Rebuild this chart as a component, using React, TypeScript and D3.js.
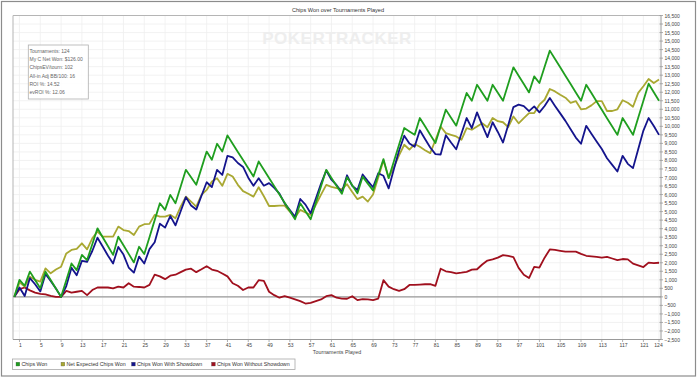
import React from "react";
import * as d3 from "d3";

const chipsWon = [0,1000,650,1480,990,500,1480,990,490,0,980,1960,1570,2460,2160,3090,4020,3500,2980,2460,3530,3030,2520,2020,2940,2510,3500,4500,5490,5100,5980,5490,6470,7450,7010,6570,7550,8520,8040,8980,8520,9470,8980,8500,8020,7540,7060,7940,7460,6970,6490,6000,5520,5040,4550,5490,5020,4550,5520,6490,7450,6970,6500,6040,7020,6550,6080,7050,6640,6240,7150,8080,6960,7940,8920,9900,9700,9500,10490,10000,9510,9020,10000,10980,10500,10040,11000,11960,11500,12440,11970,11500,12440,11970,11500,12480,13460,12970,12480,11990,12930,12540,13490,14440,13950,13460,12970,12480,11990,11500,12440,11950,11460,10970,10480,9990,9500,10490,10000,9500,10500,11500,12500,12000,11500];

const netExpected = [0,850,600,1180,1000,890,1670,1380,1600,1770,2550,2750,2810,3140,2790,3430,3830,3530,3530,3530,4120,3920,3860,3630,4120,4260,4280,4810,4700,4700,4810,4610,5290,5880,5590,5290,5980,6270,6760,6960,6510,7210,7060,6570,6200,6050,5880,6430,5900,5330,5330,5350,5350,5000,4670,5100,4950,4810,5400,6000,6570,6450,6380,6310,6610,6150,5730,5880,5590,6000,7000,8000,7000,7600,8300,8920,8640,8960,8800,8600,8430,9200,9990,9600,9505,9410,9210,9900,9800,9990,10180,9950,10490,10300,10240,9950,10580,10180,10480,10780,10780,11270,11560,12190,12050,11850,11680,11380,11480,11000,11040,11230,11480,11480,10900,10900,11000,11530,11380,11150,11960,12350,12780,12540,12740];

const withShowdown = [0,550,50,1100,740,320,1340,930,490,0,630,1710,1270,2110,2060,2690,3470,2950,2430,1960,2930,2480,1720,1420,2360,1960,2800,3200,4290,4060,4740,4190,5020,5850,5360,5120,5930,6720,6440,7450,7150,8270,8180,7850,7620,6990,6510,6960,6520,6670,6390,6050,5480,5090,4700,5740,5410,4900,5770,6640,7410,6870,6550,6140,7130,6510,6270,7180,6790,6430,7250,7100,6360,7490,8570,9450,9000,8800,9770,9260,8760,8370,8350,9480,9050,8660,9580,10490,9900,10820,10070,9370,10240,9670,9050,10080,11130,11270,11180,10890,11170,10820,11190,11660,11200,10760,10320,9830,9340,8980,10030,9570,9110,8670,8130,7740,7350,8270,7800,7550,8650,9750,10490,10020,9500];

const withoutShowdown = [0,450,550,380,250,180,140,60,0,0,350,250,300,350,100,400,550,550,550,500,600,550,800,600,580,550,700,1300,1200,1040,1240,1300,1450,1600,1650,1450,1620,1800,1600,1530,1370,1200,800,650,400,550,550,980,940,300,100,-50,40,-50,-150,-250,-390,-350,-250,-150,40,100,-50,-100,-110,40,-190,-130,-150,-190,-100,980,600,450,350,450,700,700,720,740,750,650,1650,1500,1450,1380,1420,1470,1600,1620,1900,2130,2200,2300,2450,2400,2330,1700,1300,1100,1760,1720,2300,2780,2750,2700,2650,2650,2650,2520,2410,2380,2350,2300,2350,2250,2150,2220,2200,1950,1850,1750,2010,1980,2000];

const xTicks = [1,5,9,13,17,21,25,29,33,37,41,45,49,53,57,61,65,69,73,77,81,85,89,93,97,101,105,109,113,117,121,124];
const yTicks = d3.range(-2500, 16501, 500);

const infoLines = [
  "Tournaments: 124",
  "My C Net Won: $126.00",
  "ChipsEV/tourn: 102",
  "All-in Adj BB/100: 16",
  "ROI %: 14.52",
  "evROI %: 12.06",
];

const seriesNames = ["Chips Won", "Net Expected Chips Won", "Chips Won With Showdown", "Chips Won Without Showdown"];
const seriesColors = ["#1f9e1f", "#a9a832", "#14148c", "#a0101e"];

const FONT = "'Liberation Sans', Arial, sans-serif";

export default function App() {
  const W = 700, H = 377;
  const left = 13, right = 661, top = 15.5, bottom = 339.5;
  const x = d3.scaleLinear().domain([0, 124]).range([14.3, 659]);
  const y = d3.scaleLinear().domain([-2500, 16500]).range([bottom, top]);
  const line = d3.line<number>().x((_, i) => x(i)).y((d) => y(d));
  const series = [chipsWon, netExpected, withShowdown, withoutShowdown];
  const drawOrder = [3, 1, 2, 0];
  const legendX = [16, 61, 131.5, 211.5];

  return (
    <svg width={W} height={H} style={{ position: "absolute", left: 0, top: 0, fontFamily: FONT }}>
      <rect x={0} y={0} width={W} height={H} fill="#ffffff" />
      <rect x={1.5} y={1.5} width={694} height={374.5} fill="none" stroke="#8c8c8c" strokeWidth={1.2} />
      <text x={338} y={11.5} fontSize={5.6} fill="#333" textAnchor="middle">Chips Won over Tournaments Played</text>

      {yTicks.map((t) => (
        <line key={"gy" + t} x1={left} x2={right} y1={y(t)} y2={y(t)} stroke="#efefef" strokeWidth={0.8} />
      ))}
      {xTicks.map((t) => (
        <line key={"gx" + t} x1={x(t)} x2={x(t)} y1={top} y2={bottom} stroke="#efefef" strokeWidth={0.8} />
      ))}

      <text x={337} y={44} fontSize={17} fontWeight="bold" fill="#eeeeee" textAnchor="middle" letterSpacing={0.5}>POKERTRACKER</text>

      <line x1={left} x2={left} y1={top} y2={bottom} stroke="#b5b5b5" strokeWidth={1} />
      <line x1={left} x2={right} y1={top} y2={top} stroke="#b5b5b5" strokeWidth={1} />
      <line x1={left} x2={right} y1={bottom} y2={bottom} stroke="#9a9a9a" strokeWidth={1} />
      <line x1={right} x2={right} y1={top} y2={bottom} stroke="#9a9a9a" strokeWidth={1} />
      <line x1={left} x2={right} y1={y(0)} y2={y(0)} stroke="#9a9a9a" strokeWidth={1.4} />

      {yTicks.map((t) => (
        <g key={"yt" + t}>
          <line x1={right - 1.5} x2={right + 2} y1={y(t)} y2={y(t)} stroke="#9a9a9a" strokeWidth={0.8} />
          <text x={right + 3.5} y={y(t)} fontSize={5} fill="#444" dominantBaseline="central">{d3.format(",")(t)}</text>
        </g>
      ))}

      {xTicks.map((t) => (
        <g key={"xt" + t}>
          <line x1={x(t)} x2={x(t)} y1={bottom} y2={bottom + 2.5} stroke="#9a9a9a" strokeWidth={0.8} />
          <text x={t === 124 ? x(t) - 0.5 : x(t) + 1} y={346.5} fontSize={5} fill="#444" textAnchor="middle">{t}</text>
        </g>
      ))}
      <text x={337} y={353.5} fontSize={5.3} fill="#444" textAnchor="middle">Tournaments Played</text>

      {drawOrder.map((si) => (
        <path key={"s" + si} d={line(series[si]) || ""} fill="none" stroke={seriesColors[si]} strokeWidth={1.8} strokeLinejoin="round" />
      ))}

      <rect x={28.3} y={45} width={60} height={54} fill="#ffffff" fillOpacity={0.85} stroke="#b0b0b0" strokeWidth={0.8} />
      {infoLines.map((s, i) => (
        <text key={"info" + i} x={29.5} y={52.5 + i * 8.35} fontSize={5} fill="#666">{s}</text>
      ))}

      <rect x={12.5} y={359} width={282.5} height={10.5} fill="#ffffff" stroke="#a8a8a8" strokeWidth={0.8} />
      {seriesNames.map((n, i) => (
        <g key={"lg" + i}>
          <rect x={legendX[i]} y={362.2} width={3.8} height={3.8} fill={seriesColors[i]} stroke="#555" strokeWidth={0.3} />
          <text x={legendX[i] + 5.5} y={366.1} fontSize={5.3} fill="#333">{n}</text>
        </g>
      ))}
    </svg>
  );
}
